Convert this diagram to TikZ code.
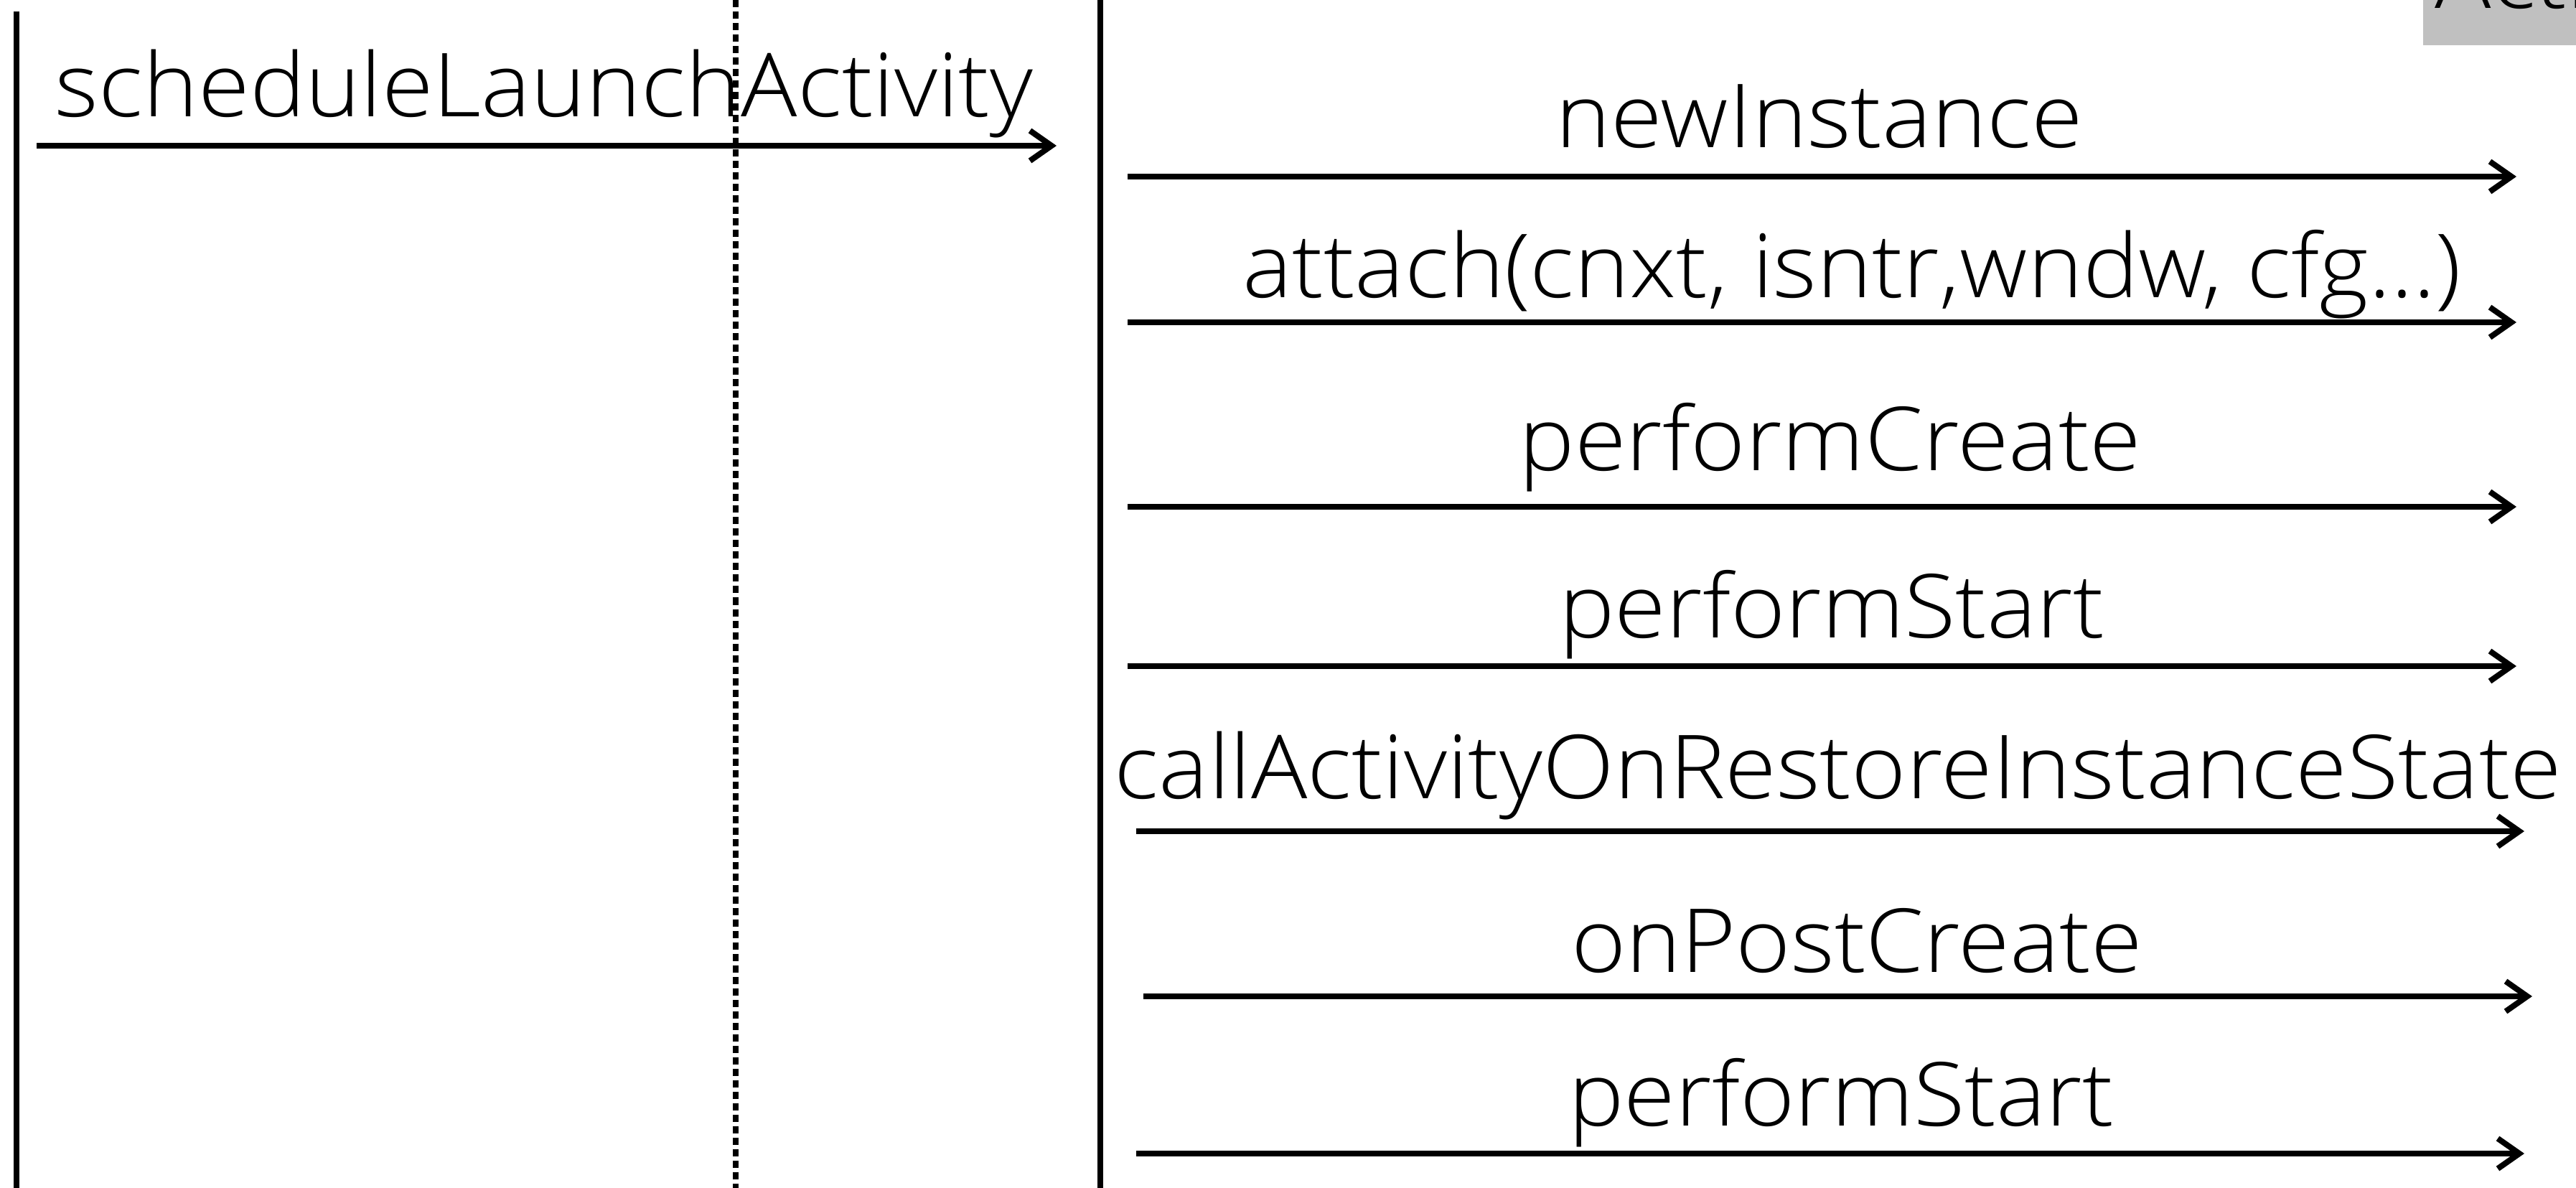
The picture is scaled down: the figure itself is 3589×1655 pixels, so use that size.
\documentclass[tikz,border=0pt]{standalone}
\usepackage{fontspec}
\setmainfont{Open Sans Light}[FakeStretch=1.06]
\usetikzlibrary{arrows.meta}
\begin{document}
\begin{tikzpicture}[x=0.01cm,y=-0.01cm,
  lbl/.style={anchor=base,inner sep=0pt,font=\fontsize{35pt}{40pt}\selectfont},
  msg/.style={line width=0.08cm,-{Straight Barb[length=0.3cm,width=0.42cm]}},
  lifeline/.style={line width=0.075cm},
  dotline/.style={line width=0.075cm,dash pattern=on 0.10cm off 0.06cm}]
\useasboundingbox (0,0) rectangle (3589,1655);
\begin{scope}
\clip (0,0) rectangle (3589,1655);
% lifelines
\coordinate (L1t) at (23,16);   \coordinate (L1b) at (23,1655);
\coordinate (L2t) at (1025,0);  \coordinate (L2b) at (1025,1655);
\coordinate (L3t) at (1533,0);  \coordinate (L3b) at (1533,1655);
\draw[lifeline] (L1t) -- (L1b);
\draw[dotline] (L2t) -- (L2b);
\draw[lifeline,line width=0.08cm] (L3t) -- (L3b);
% header box
\fill[fill={rgb,255:red,192;green,192;blue,192}] (3376,0) rectangle (3589,63);
\node[lbl,anchor=base west] (hdr) at (3392,12) {Activity};
% messages
\coordinate (s0) at (51,203);   \coordinate (e0) at (1472,203);
\coordinate (s1) at (1571,246); \coordinate (e1) at (3506,246);
\coordinate (s2) at (1571,449); \coordinate (e2) at (3506,449);
\coordinate (s3) at (1571,706); \coordinate (e3) at (3506,706);
\coordinate (s4) at (1571,928); \coordinate (e4) at (3506,928);
\coordinate (s5) at (1583,1158); \coordinate (e5) at (3517,1158);
\coordinate (s6) at (1593,1388); \coordinate (e6) at (3528,1388);
\coordinate (s7) at (1583,1607); \coordinate (e7) at (3517,1607);
\foreach \i in {0,...,7} {\draw[msg] (s\i) -- (e\i);}
\node[lbl] (t0) at (758,163) {scheduleLaunchActivity};
\node[lbl] (t1) at (2535,206) {newInstance};
\node[lbl] (t2) at (2580,415) {attach(cnxt, isntr,wndw, cfg...)};
\node[lbl] (t3) at (2550,656) {performCreate};
\node[lbl] (t4) at (2552,889) {performStart};
\node[lbl] (t5) at (2561,1112) {callActivityOnRestoreInstanceState};
\node[lbl] (t6) at (2587,1354) {onPostCreate};
\node[lbl] (t7) at (2565,1568) {performStart};
\end{scope}
\end{tikzpicture}
\end{document}
